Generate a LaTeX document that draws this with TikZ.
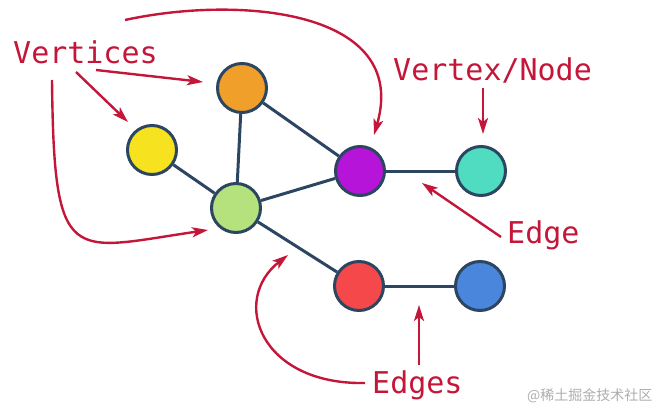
\documentclass[tikz,border=0pt]{standalone}
\usepackage{fontspec}
\setmonofont{DejaVu Sans Mono}
\newfontfamily\cjkfont{Noto Sans CJK SC}
\usetikzlibrary{arrows.meta}
\definecolor{lab}{RGB}{196,22,56}
\definecolor{edgec}{RGB}{44,70,98}
\definecolor{cyel}{RGB}{246,226,30}
\definecolor{cora}{RGB}{240,160,42}
\definecolor{cgre}{RGB}{182,226,126}
\definecolor{cpur}{RGB}{182,20,216}
\definecolor{ctea}{RGB}{80,220,192}
\definecolor{cred}{RGB}{245,72,74}
\definecolor{cblu}{RGB}{74,134,220}
\begin{document}
\begin{tikzpicture}[x=1pt,y=-1pt,
  vtx/.style={circle,draw=edgec,line width=3pt,minimum size=49pt,inner sep=0pt},
  edg/.style={draw=edgec,line width=3pt},
  lbl/.style={text=lab,font=\ttfamily\fontsize{30}{30}\selectfont,inner sep=0pt,anchor=base west},
  arr/.style={draw=lab,line width=2.4pt,-{Stealth[length=16pt,width=10pt,inset=4pt]}}]
\useasboundingbox (0,0) rectangle (667,415);
% vertices
\node[vtx,fill=cyel] (yel) at (152,150) {};
\node[vtx,fill=cora] (ora) at (242,88) {};
\node[vtx,fill=cgre] (gre) at (236,208) {};
\node[vtx,fill=cpur] (pur) at (360,171) {};
\node[vtx,fill=ctea] (tea) at (481,171) {};
\node[vtx,fill=cred] (red) at (359,286) {};
\node[vtx,fill=cblu] (blu) at (480,286) {};
% edges
\draw[edg] (yel) -- (gre);
\draw[edg] (ora) -- (gre);
\draw[edg] (ora) -- (pur);
\draw[edg] (gre) -- (pur);
\draw[edg] (pur) -- (tea);
\draw[edg] (gre) -- (red);
\draw[edg] (red) -- (blu);
% labels
\node[lbl] (tv) at (13,63) {Vertices};
\node[lbl] (tvn) at (393,80) {Vertex/Node};
\node[lbl] (te) at (507,243) {Edge};
\node[lbl] (tes) at (372,393) {Edges};
\node[text=black!32,font=\cjkfont\fontsize{14}{14}\selectfont,anchor=base west,inner sep=0pt] (wm) at (527,400) {@稀土掘金技术社区};
% arrow coordinates
\coordinate (a1s) at (96,70);   \coordinate (a1e) at (203,82);
\coordinate (a2s) at (76,72);   \coordinate (a2e) at (128,122);
\coordinate (a3s) at (52,80);   \coordinate (a3e) at (208,230);
\coordinate (a4s) at (125,20);  \coordinate (a4e) at (374,135);
\coordinate (a5s) at (483,88);  \coordinate (a5e) at (483,134);
\coordinate (a6s) at (501,237); \coordinate (a6e) at (422,183);
\coordinate (a7s) at (365,383); \coordinate (a7e) at (288,255);
\coordinate (a8s) at (419,365); \coordinate (a8e) at (419,305);
\draw[arr] (a1s) -- (a1e);
\draw[arr] (a2s) -- (a2e);
\draw[arr] (a3s) .. controls (54,270) and (70,250) .. (a3e);
\draw[arr] (a4s) .. controls (240,-5) and (410,10) .. (a4e);
\draw[arr] (a5s) -- (a5e);
\draw[arr] (a6s) -- (a6e);
\draw[arr] (a7s) .. controls (260,385) and (230,300) .. (a7e);
\draw[arr] (a8s) -- (a8e);
\end{tikzpicture}
\end{document}
